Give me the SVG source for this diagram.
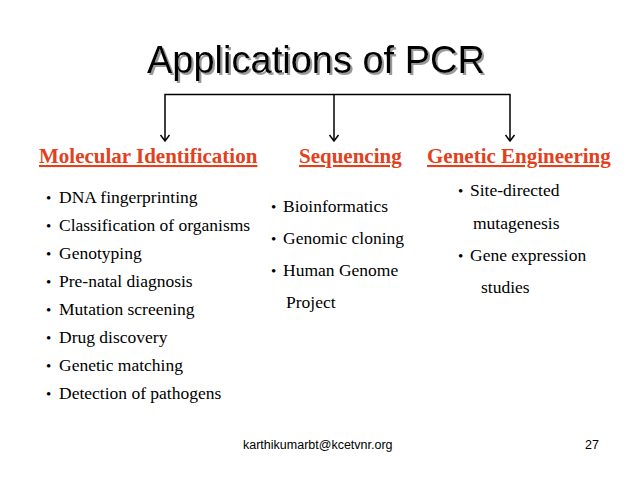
<svg xmlns="http://www.w3.org/2000/svg" width="638" height="479" viewBox="0 0 638 479">
<defs>
<marker id="arr" markerWidth="12" markerHeight="12" refX="9" refY="6" orient="auto-start-reverse" markerUnits="userSpaceOnUse" viewBox="0 0 12 12">
<path d="M3,1.5 L9,6 L3,10.5" fill="none" stroke="#000" stroke-width="1.5"/>
</marker>
<filter id="shadow" x="-5%" y="-20%" width="110%" height="140%">
<feOffset in="SourceAlpha" dx="2" dy="2" result="off"/>
<feFlood flood-color="#9a9a9a"/>
<feComposite in2="off" operator="in" result="sh"/>
<feMerge><feMergeNode in="sh"/><feMergeNode in="SourceGraphic"/></feMerge>
</filter>
</defs>
<style>
.title{font-family:"Liberation Sans",Arial,sans-serif;font-size:38px;fill:#000}
.head{font-family:"Liberation Serif","Times New Roman",serif;font-size:21px;font-weight:bold;fill:#E2411C;text-decoration:underline}
.item{font-family:"Liberation Serif","Times New Roman",serif;font-size:17.5px;fill:#000}
.bul{font-family:"Liberation Serif","Times New Roman",serif;font-size:15px;fill:#000}
.foot{font-family:"Liberation Sans",Arial,sans-serif;font-size:12.5px;fill:#000}
.conn{fill:none;stroke:#000;stroke-width:1.5}
</style>
<rect width="638" height="479" fill="#fff"/>
<g id="title">
<text class="title" x="147" y="73" filter="url(#shadow)">Applications of PCR</text>
</g>
<g id="connectors">
<path class="conn" d="M165,141 V94.5 H510 V141" marker-start="url(#arr)" marker-end="url(#arr)"/>
<path class="conn" d="M334,94.5 V141" marker-end="url(#arr)"/>
</g>
<g id="molecular">
<text class="head" x="39" y="163">Molecular Identification</text>
<text class="bul" x="46" y="203">•</text><text class="item" x="59" y="203">DNA fingerprinting</text>
<text class="bul" x="46" y="231">•</text><text class="item" x="59" y="231">Classification of organisms</text>
<text class="bul" x="46" y="259">•</text><text class="item" x="59" y="259">Genotyping</text>
<text class="bul" x="46" y="287">•</text><text class="item" x="59" y="287">Pre-natal diagnosis</text>
<text class="bul" x="46" y="315">•</text><text class="item" x="59" y="315">Mutation screening</text>
<text class="bul" x="46" y="343">•</text><text class="item" x="59" y="343">Drug discovery</text>
<text class="bul" x="46" y="371">•</text><text class="item" x="59" y="371">Genetic matching</text>
<text class="bul" x="46" y="399">•</text><text class="item" x="59" y="399">Detection of pathogens</text>
</g>
<g id="sequencing">
<text class="head" x="299" y="163">Sequencing</text>
<text class="bul" x="271" y="212">•</text><text class="item" x="283" y="212">Bioinformatics</text>
<text class="bul" x="271" y="244">•</text><text class="item" x="283" y="244">Genomic cloning</text>
<text class="bul" x="271" y="276">•</text><text class="item" x="283" y="276">Human Genome</text>
<text class="item" x="286" y="308">Project</text>
</g>
<g id="genetic">
<text class="head" x="427" y="163">Genetic Engineering</text>
<text class="bul" x="458" y="196">•</text><text class="item" x="470" y="196">Site-directed</text>
<text class="item" x="473" y="229">mutagenesis</text>
<text class="bul" x="458" y="261">•</text><text class="item" x="470" y="261">Gene expression</text>
<text class="item" x="481" y="293">studies</text>
</g>
<g id="footer">
<text class="foot" x="243" y="449">karthikumarbt@kcetvnr.org</text>
<text class="foot" x="585" y="449">27</text>
</g>
</svg>
